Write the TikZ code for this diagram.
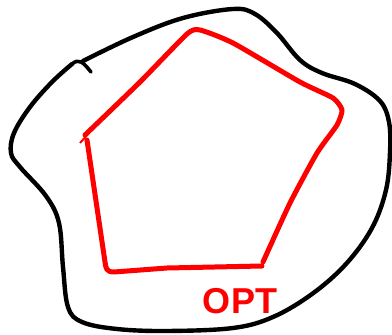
\documentclass[tikz,border=0pt]{standalone}
\usepackage{fontspec}
\setmainfont{Liberation Sans}
\begin{document}
\begin{tikzpicture}[x=1pt,y=-1pt,
  blob/.style={draw=black,line width=4.4pt,line cap=round,line join=round},
  redline/.style={draw=red,line width=5pt,line cap=round,line join=round},
  lbl/.style={text=red,font=\bfseries\fontsize{36}{36}\selectfont}]
\useasboundingbox (0,0) rectangle (392,335);
% black outer blob
\path[blob] plot[smooth,tension=0.6] coordinates {
 (83,61) (133,37) (183,18) (233,9) (255,14) (277,33) (300,60) (322,73)
 (355,84) (380,101) (389,122) (390,152) (386,190) (372,228) (346,264)
 (312,294) (273,317) (233,328) (167,331) (117,329) (82,322) (68,307)
 (63,267) (59,223) (46,196) (20,167) (11,153) (14,133) (30,107) (52,82) (72,64)};
\path[blob,line width=3.6pt] (72,64) .. controls (79,58) and (83,62) .. (91,72);
% red polygon
\path[redline] plot[smooth,tension=0.35] coordinates {
 (85,135) (140,82) (187,34) (200,30) (233,43) (300,82) (333,98) (342,110)
 (337,125) (317,153) (290,203) (263,262)};
\path[redline] (262,266) -- (167,268) -- (114,272) .. controls (106,272) and (106,268) .. (105,262)
  -- (87,140);
\path[draw=red,line width=2pt] (80,143) -- (89,133);
\node[lbl] (opt) at (240,301) {OPT};
\end{tikzpicture}
\end{document}
